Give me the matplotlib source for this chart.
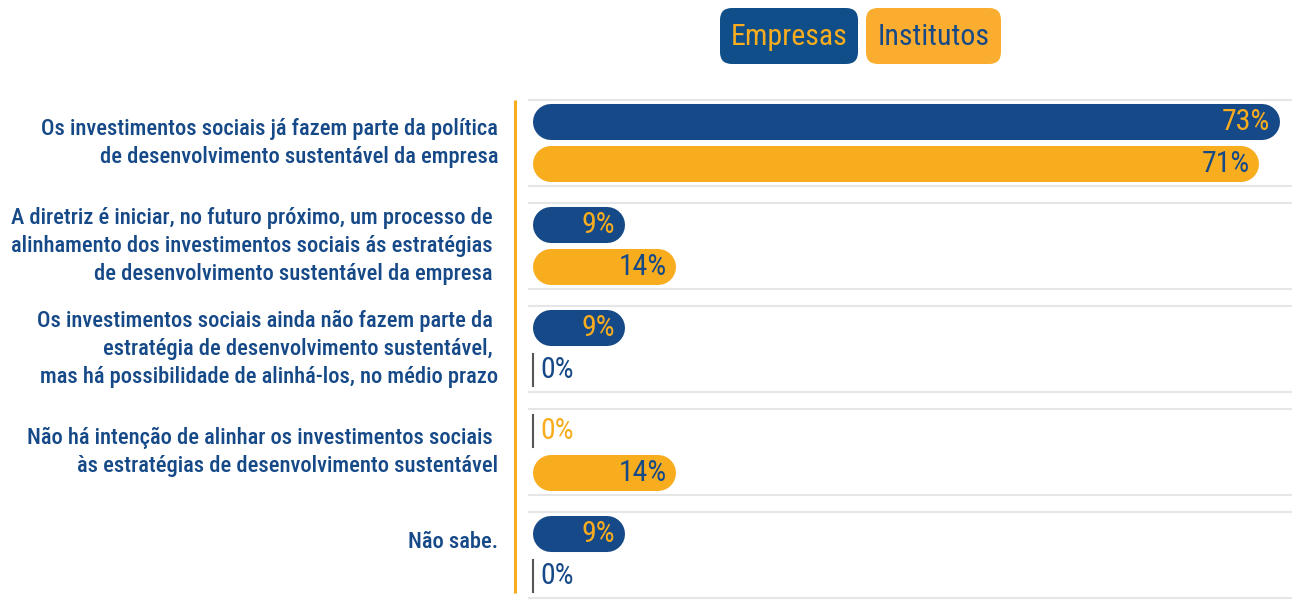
import matplotlib
matplotlib.use("Agg")
import matplotlib.pyplot as plt
from matplotlib import font_manager as fm
from matplotlib.patches import FancyBboxPatch

# ---------------- data ----------------
categories = [
    "Os investimentos sociais já fazem parte da política\nde desenvolvimento sustentável da empresa",
    "A diretriz é iniciar, no futuro próximo, um processo de \nalinhamento dos investimentos sociais ás estratégias \nde desenvolvimento sustentável da empresa ",
    "Os investimentos sociais ainda não fazem parte da \nestratégia de desenvolvimento sustentável, \nmas há possibilidade de alinhá-los, no médio prazo",
    "Não há intenção de alinhar os investimentos sociais \nàs estratégias de desenvolvimento sustentável",
    "Não sabe.",
]
series_names = ["Empresas", "Institutos"]
empresas = [73, 9, 9, 0, 9]
institutos = [71, 14, 0, 14, 0]

# ---------------- style ----------------
BLUE = "#164987"
ORANGE = "#F8AD1F"
LEG_BLUE = "#0F4E89"
LEG_ORANGE = "#FAAD2E"
GRID = "#E6E6E6"

names = {f.name for f in fm.fontManager.ttflist}
FONT = "DejaVu Sans"
STRETCH = "condensed"
for cand in ["Roboto Condensed", "Liberation Sans Narrow", "Open Sans Condensed"]:
    if cand in names:
        FONT = cand
        STRETCH = "normal"
        break
plt.rcParams["font.family"] = [FONT, "DejaVu Sans"]
plt.rcParams["font.stretch"] = STRETCH

W, H = 1304, 603
fig = plt.figure(figsize=(W / 100, H / 100), dpi=100)

XMIN, XMAX = -0.489, 74.19
YTOP, YBOT = -0.437, 4.437
ax = fig.add_axes([528 / W, 3 / H, 764 / W, 502 / H])
ax.set_xlim(XMIN, XMAX)
ax.set_ylim(YBOT, YTOP)
ax.axis("off")

px_per_x = 764 / (XMAX - XMIN)
px_per_y = 502 / (YBOT - YTOP)

bar_h = 0.35
offset = 0.2
bar_px = bar_h * px_per_y
r_x = bar_px / 2 / px_per_x
lw_pt = bar_px * 72 / 100

values = [empresas, institutos]
bar_colors = [BLUE, ORANGE]
label_colors = [ORANGE, BLUE]

for i in range(len(categories)):
    for y in (i - 0.42, i + 0.42):
        ax.plot([XMIN, XMAX], [y, y], color=GRID, lw=1.5, zorder=0, solid_capstyle="butt")
    for s, vals in enumerate(values):
        v = vals[i]
        yc = i + (offset if s == 1 else -offset)
        if v > 0:
            ax.plot([r_x, v - r_x], [yc, yc], color=bar_colors[s], lw=lw_pt,
                    solid_capstyle="round", zorder=2)
            ax.annotate(f"{v}%", (v, yc), xytext=(-7, 0), textcoords="offset points",
                        ha="right", va="center", fontsize=21.5, color=label_colors[s], zorder=3)
        else:
            ax.plot([0, 0], [yc - 0.155, yc + 0.155], color="#555555", lw=1.5, zorder=2)
            ax.annotate(f"{v}%", (0, yc), xytext=(5.5, 0), textcoords="offset points",
                        ha="left", va="center", fontsize=21.5, color=label_colors[s], zorder=3)

# category labels
ytr = ax.get_yaxis_transform()
for i, cat in enumerate(categories):
    yl = i - 0.13 if i == len(categories) - 1 else i
    ax.text(-30 / 764, yl, cat, transform=ytr, ha="right", va="center",
            fontsize=16.2, color=BLUE, linespacing=1.33, fontweight="medium")

# overlay in pixel coordinates: legend and vertical accent line
ov = fig.add_axes([0, 0, 1, 1], zorder=5)
ov.set_xlim(0, W)
ov.set_ylim(H, 0)
ov.axis("off")
ov.patch.set_alpha(0)

ov.plot([515, 515], [100, 593], color=ORANGE, lw=2.2, solid_capstyle="butt")

leg = [(720, 858, LEG_BLUE, ORANGE), (866, 1001, LEG_ORANGE, BLUE)]
for (x0, x1, fc, tc), name in zip(leg, series_names):
    ov.add_patch(FancyBboxPatch((x0, 8), x1 - x0, 56,
                                boxstyle="round,pad=0,rounding_size=12",
                                fc=fc, ec="none"))
    ov.text((x0 + x1) / 2, 37, name, ha="center", va="center",
            fontsize=21.5, color=tc)

fig.savefig("out.png", dpi=100)
